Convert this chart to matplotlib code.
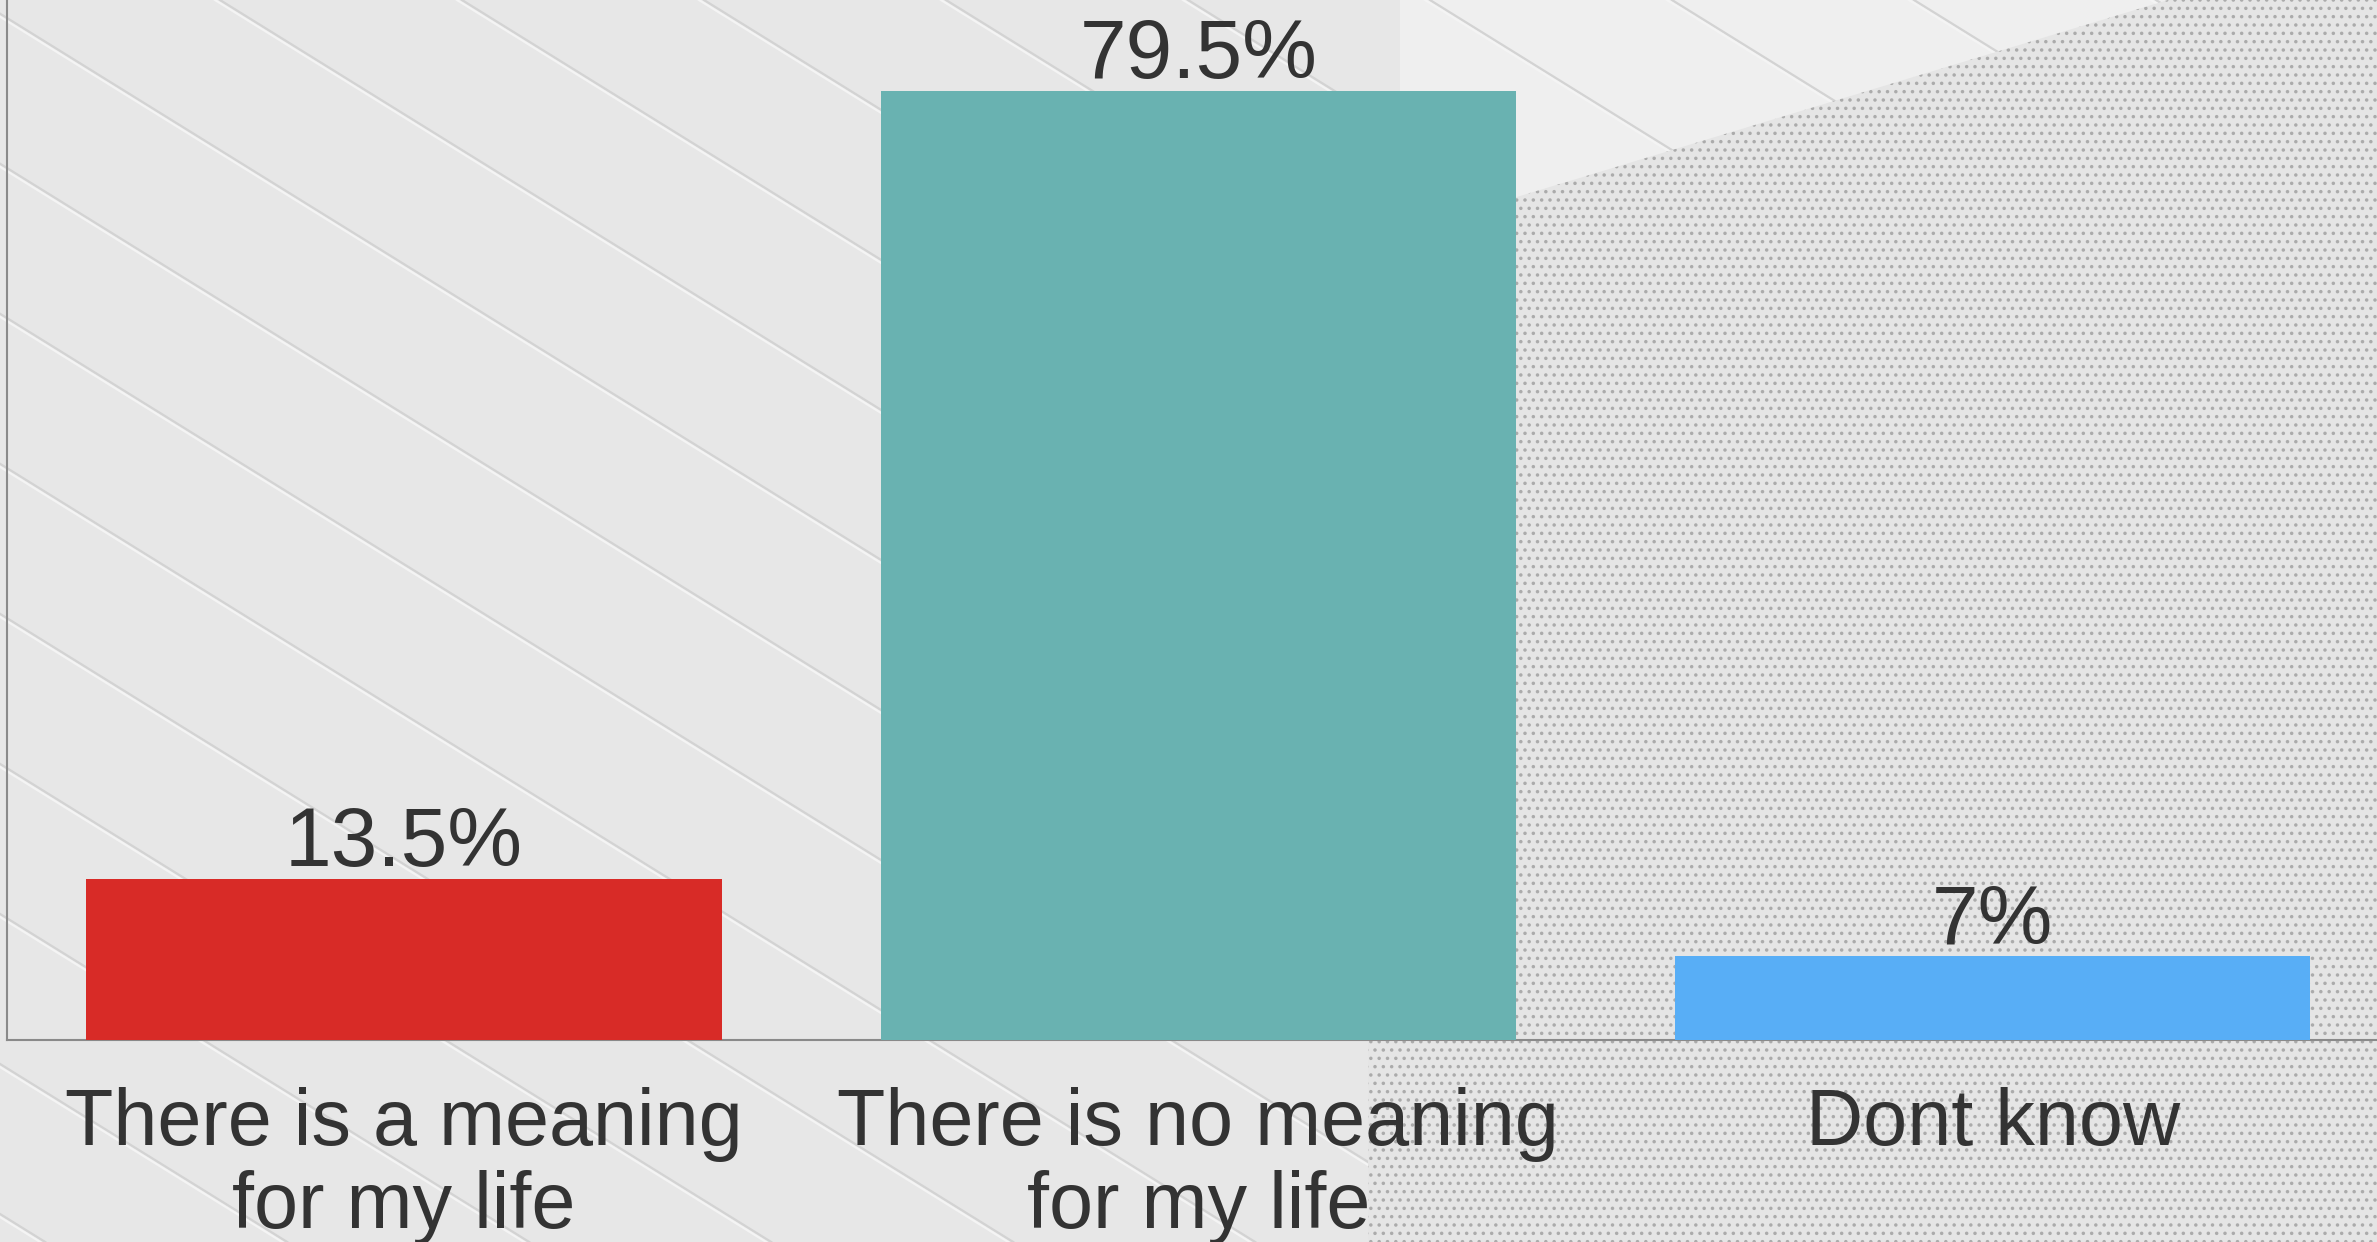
import numpy as np
import matplotlib
matplotlib.use("Agg")
import matplotlib.pyplot as plt
from matplotlib.patches import Polygon

categories = ["There is a meaning\nfor my life", "There is no meaning\nfor my life", "Dont know"]
values = [13.5, 79.5, 7]
value_labels = ["13.5%", "79.5%", "7%"]
bar_colors = ["#D82B27", "#69B2B1", "#58AEF6"]

plt.rcParams["font.family"] = ["Liberation Sans", "DejaVu Sans"]
plt.rcParams["hatch.linewidth"] = 1.3

W, H = 2377, 1242
fig = plt.figure(figsize=(W / 100, H / 100), dpi=100)
fig.patch.set_facecolor("#E7E7E7")

# --- background texture (pixel coords, y down) ---
bg = fig.add_axes([0, 0, 1, 1], zorder=-5)
bg.set_xlim(0, W)
bg.set_ylim(H, 0)
bg.axis("off")

# lighter upper right area
bg.add_patch(Polygon([(1400, 0), (W, 0), (W, 400), (1400, 400)], closed=True,
                     facecolor="#EFEFEF", edgecolor="none", zorder=0))
# diagonal grooves
slope = 0.62
for x0 in np.arange(-2200, 2400, 242):
    bg.plot([x0, x0 + H / slope], [0, H], color="#D3D3D3", lw=1.6, zorder=1)
    bg.plot([x0 - 5, x0 - 5 + H / slope], [0, H], color="#F4F4F4", lw=1.6, zorder=1)

# perforated panel on the right
dots = Polygon([(1368, H), (1368, 242), (2168, 0), (W, 0), (W, H)], closed=True,
               facecolor="#E5E5E5", edgecolor="#ABABAB", linewidth=0,
               hatch="..", zorder=2)
bg.add_patch(dots)

# --- the chart ---
ax = fig.add_axes([7 / W, 202 / H, (W - 7) / W, 1040 / H])
ax.patch.set_alpha(0)
x = np.arange(len(categories))
ax.bar(x, values, width=0.8, color=bar_colors, zorder=3)

for xi, v, lab in zip(x, values, value_labels):
    ax.annotate(lab, (xi, v), xytext=(0, 9), textcoords="offset points",
                ha="center", va="baseline", fontsize=60.5, color="#333333")

ax.set_xlim(-0.5, 2.484)
ax.set_ylim(0, 87.1)
ax.set_xticks(x)
ax.set_xticklabels(categories, fontsize=57, color="#333333", linespacing=1.14)
ax.tick_params(axis="x", length=0, pad=34)
ax.set_yticks([])
for s in ["top", "right"]:
    ax.spines[s].set_visible(False)
for s in ["left", "bottom"]:
    ax.spines[s].set_color("#8A8A8A")
    ax.spines[s].set_linewidth(1.5)

fig.savefig("out.png", dpi=100, facecolor=fig.get_facecolor())
